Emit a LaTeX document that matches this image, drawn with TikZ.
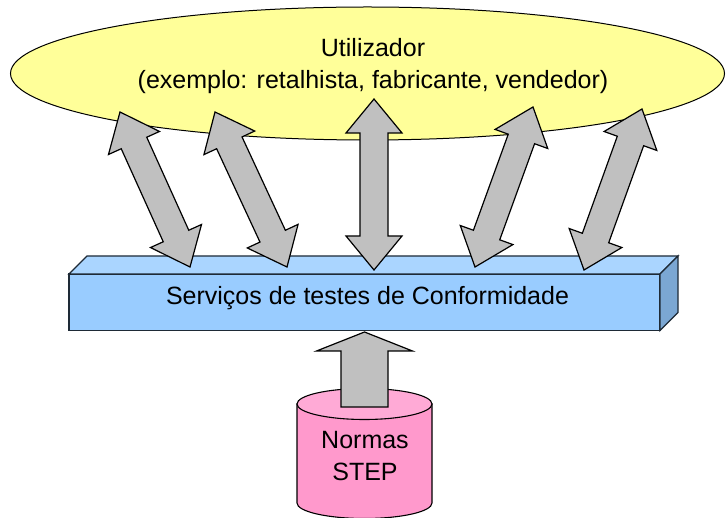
\documentclass[tikz,border=0pt]{standalone}
\usepackage{fontspec}
\setmainfont{Liberation Sans}
\usetikzlibrary{calc,shapes.geometric}
\definecolor{userfill}{HTML}{FFFF99}
\definecolor{boxfront}{HTML}{99CCFF}
\definecolor{boxtop}{HTML}{AAD5FF}
\definecolor{boxside}{HTML}{7BA7D3}
\definecolor{boxline}{HTML}{1E2A36}
\definecolor{arrowfill}{HTML}{C0C0C0}
\definecolor{cylbody}{HTML}{FF99CC}
\definecolor{cyltop}{HTML}{FFAAD6}
\tikzset{
  lbl/.style={inner sep=0pt, font=\fontsize{25}{32}\selectfont},
  blockarrow/.style={draw=black, fill=arrowfill, line width=1.2pt, line join=miter},
  boxedge/.style={draw=boxline, line width=1.3pt, line join=miter},
  cyl/.style={draw=black, line width=1.1pt},
}
\newcommand\dblarrow[3]{%
  \coordinate (#1h1) at ($(#2)!34pt!(#3)$);
  \coordinate (#1h2) at ($(#3)!34pt!(#2)$);
  \draw[blockarrow] (#2) -- ($(#1h1)!28pt!90:(#3)$) -- ($(#1h1)!14pt!90:(#3)$)
    -- ($(#1h2)!14pt!-90:(#2)$) -- ($(#1h2)!28pt!-90:(#2)$) -- (#3)
    -- ($(#1h2)!28pt!90:(#2)$) -- ($(#1h2)!14pt!90:(#2)$)
    -- ($(#1h1)!14pt!-90:(#3)$) -- ($(#1h1)!28pt!-90:(#3)$) -- cycle;
}
\begin{document}
\begin{tikzpicture}[x=1pt,y=-1pt]
\useasboundingbox (0,0) rectangle (726,518);
% user ellipse
\node[ellipse, draw=black, fill=userfill, line width=1pt, minimum width=714pt, minimum height=133pt, inner sep=0pt, outer sep=0pt] (user) at (367.5,73.5) {};
\node[lbl, anchor=base] (userA) at (373,57) {Utilizador};
\node[lbl, anchor=base] (userB) at (373,89) {(exemplo: retalhista, fabricante, vendedor)};
% services box
\node[boxedge, fill=boxfront, minimum width=591pt, minimum height=56.5pt, inner sep=0pt, outer sep=0pt] (svc) at (364.5,302.25) {};
\draw[boxedge, fill=boxtop] (svc.north west) -- ++(18,-18) -- ++(591,0) -- (svc.north east) -- cycle;
\draw[boxedge, fill=boxside] (svc.north east) -- ++(18,-18) -- ++(0,56.5) -- (svc.south east) -- cycle;
\node[lbl, anchor=base] (svclbl) at (367.5,305) {Serviços de testes de Conformidade};
% double arrows
\coordinate (a1s) at (120,112); \coordinate (a1e) at (190,267);
\coordinate (a2s) at (215,112); \coordinate (a2e) at (287,267);
\coordinate (a3s) at (374,99);  \coordinate (a3e) at (374,270);
\coordinate (a4s) at (533,107); \coordinate (a4e) at (475,267);
\coordinate (a5s) at (642,109); \coordinate (a5e) at (584,270);
\dblarrow{aa}{a1s}{a1e}
\dblarrow{ab}{a2s}{a2e}
\dblarrow{ac}{a3s}{a3e}
\dblarrow{ad}{a4s}{a4e}
\dblarrow{ae}{a5s}{a5e}
% cylinder
\draw[cyl, fill=cylbody] (297,404) -- (297,503) arc[start angle=180, end angle=0, x radius=67.5, y radius=15.5] -- (432,404) -- cycle;
\draw[cyl, fill=cyltop] (364.5,404) ellipse[x radius=67.5, y radius=15.5];
\node[lbl, anchor=base] (dbA) at (365,449) {Normas};
\node[lbl, anchor=base] (dbB) at (365,481) {STEP};
% up arrow
\coordinate (dbtop) at (364.5,407);
\coordinate (uptip) at ($(svc.south)+(0,1.5)$);
\draw[blockarrow] ($(dbtop)+(-23.5,0)$) -- ($(uptip)+(-23.5,19)$) -- ($(uptip)+(-48,19)$) -- (uptip)
  -- ($(uptip)+(48,19)$) -- ($(uptip)+(23.5,19)$) -- ($(dbtop)+(23.5,0)$) -- cycle;
\end{tikzpicture}
\end{document}
